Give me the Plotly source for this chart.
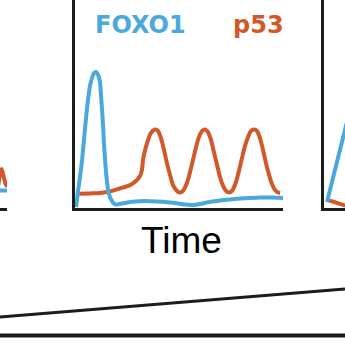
import plotly.graph_objects as go

# ---------------- data (time: 0-100 a.u., level: 0-100 a.u.) ----------------
# main panel
foxo1_t = [0.5, 1.4, 2.4, 3.4, 4.3, 5.3, 6.25, 7.2, 8.2, 9.1, 10.1, 11.1, 12.0, 12.5, 13.0,
           13.5, 13.9, 14.4, 14.9, 15.4, 15.9, 16.8, 17.8, 18.75, 20.2, 21.6, 24.0, 28.8,
           33.7, 38.5, 43.3, 48.1, 52.9, 56.7, 60.1, 64.9, 69.7, 74.5, 79.3, 84.1, 88.9,
           93.75, 100.0]
foxo1_v = [0.2, 7.5, 14.7, 22.9, 32.5, 43.1, 51.8, 58.6, 62.4, 64.8, 65.3, 63.9, 60.5, 54.2,
           47.0, 39.3, 31.1, 23.9, 17.1, 12.3, 8.4, 5.1, 3.1, 1.9, 1.4, 1.7, 2.2, 2.9, 3.1,
           2.9, 2.7, 2.2, 1.4, 1.2, 1.7, 2.7, 3.4, 3.9, 4.3, 4.6, 4.8, 4.8, 4.6]
p53_t = [1.9, 7.2, 12.0, 16.8, 21.6, 26.4, 29.3, 31.25, 32.2, 32.7, 33.7, 35.1, 36.5, 38.5,
         39.9, 41.3, 42.8, 44.2, 45.7, 47.1, 49.0, 50.5, 51.9, 53.8, 55.3, 56.7, 58.2, 59.6,
         61.1, 62.5, 63.9, 65.4, 66.8, 68.3, 69.7, 71.2, 72.6, 74.0, 75.5, 77.4, 78.8, 80.3,
         81.7, 83.2, 84.6, 86.1, 87.5, 88.9, 90.4, 91.8, 93.3, 94.7, 96.2, 97.6, 98.6]
p53_v = [6.6, 6.8, 7.0, 7.7, 9.2, 10.8, 12.8, 15.2, 18.1, 22.9, 27.7, 32.5, 35.9, 37.6,
         36.9, 33.5, 27.7, 21.4, 15.7, 10.8, 8.0, 7.2, 8.0, 11.8, 17.1, 22.9, 29.2, 34.0,
         36.9, 37.6, 36.4, 32.5, 26.7, 20.5, 14.7, 10.4, 8.0, 7.2, 8.0, 12.3, 17.6, 23.9,
         29.6, 34.0, 36.9, 37.6, 36.9, 33.5, 27.7, 21.4, 15.7, 11.3, 8.4, 7.2, 7.0]

# neighbouring panel on the left (only its right end is visible)
left_foxo1_t = [95.0, 100.0]
left_foxo1_v = [8.2, 8.2]
left_p53_t = [95.8, 96.6, 97.4, 98.3, 99.2, 100.0]
left_p53_v = [10.8, 16.1, 18.6, 15.2, 11.8, 9.9]

# neighbouring panel on the right (only its start is visible)
right_foxo1_t = [1.7, 10.3, 12.0]
right_foxo1_v = [2.65, 37.3, 44.0]
right_p53_t = [2.6, 10.3, 12.0]
right_p53_v = [3.4, 1.0, 0.8]

# decorative lines below the panels (canvas units, 0-345)
wedge_x = [0, 345]
wedge_y = [317, 289]
base_x = [0, 345]
base_y = [335.5, 335.5]

BLUE = "#4AA8DC"
ORANGE = "#D2582A"
AXIS = "#1c1c1c"
S = 345.0

fig = go.Figure()

def line(x, y, color, xa, ya, width=4):
    fig.add_trace(go.Scatter(x=x, y=y, mode="lines", xaxis=xa, yaxis=ya,
                             line=dict(color=color, width=width, shape="spline", smoothing=0.6),
                             hoverinfo="skip", showlegend=False))

# decorative canvas lines
fig.add_trace(go.Scatter(x=wedge_x, y=wedge_y, mode="lines", xaxis="x4", yaxis="y4",
                         line=dict(color=AXIS, width=3), hoverinfo="skip", showlegend=False))
fig.add_trace(go.Scatter(x=base_x, y=base_y, mode="lines", xaxis="x4", yaxis="y4",
                         line=dict(color=AXIS, width=4), hoverinfo="skip", showlegend=False))

line(p53_t, p53_v, ORANGE, "x", "y")
line(foxo1_t, foxo1_v, BLUE, "x", "y")
line(left_p53_t, left_p53_v, ORANGE, "x2", "y2")
line(left_foxo1_t, left_foxo1_v, BLUE, "x2", "y2")
line(right_p53_t, right_p53_v, ORANGE, "x3", "y3")
line(right_foxo1_t, right_foxo1_v, BLUE, "x3", "y3")

ydom = [1 - 207.5 / S, 1]
ax_common = dict(showgrid=False, zeroline=False, showticklabels=False, ticks="",
                 showline=True, linecolor=AXIS, linewidth=3, fixedrange=True)

fig.update_layout(
    width=345, height=345,
    margin=dict(l=0, r=0, t=0, b=0),
    paper_bgcolor="white", plot_bgcolor="rgba(0,0,0,0)",
    xaxis=dict(domain=[75 / S, 283 / S], range=[0, 100], anchor="y", **ax_common),
    yaxis=dict(domain=ydom, range=[0, 100], anchor="x", **ax_common),
    xaxis2=dict(domain=[0, 7 / S], range=[96.6, 100], anchor="y2", **ax_common),
    yaxis2=dict(domain=ydom, range=[0, 100], anchor="x2", visible=False),
    xaxis3=dict(domain=[323.5 / S, 1], range=[0, 10.34], anchor="y3", **ax_common),
    yaxis3=dict(domain=ydom, range=[0, 100], anchor="x3", **ax_common),
    xaxis4=dict(domain=[0, 1], range=[0, 345], anchor="y4", visible=False, fixedrange=True),
    yaxis4=dict(domain=[0, 1], range=[345, 0], anchor="x4", visible=False, fixedrange=True),
    annotations=[
        dict(text="FOXO1", xref="x4", yref="y4", x=93, y=25.3, xanchor="left", yanchor="middle",
             showarrow=False, font=dict(family="DejaVu Sans", size=24, color=BLUE, weight="bold")),
        dict(text="p53", xref="x4", yref="y4", x=231, y=25.3, xanchor="left", yanchor="middle",
             showarrow=False, font=dict(family="DejaVu Sans", size=24, color=ORANGE, weight="bold")),
        dict(text="Time", xref="x4", yref="y4", x=181, y=240.8, xanchor="center", yanchor="middle",
             showarrow=False, font=dict(family="Liberation Sans", size=37, color="black")),
    ],
)

fig.write_html("out.html")
